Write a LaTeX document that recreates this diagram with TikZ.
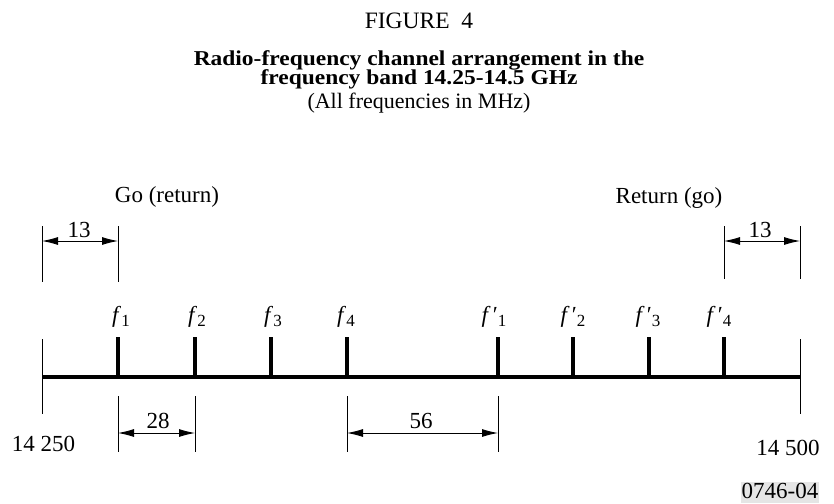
\documentclass[tikz,border=0pt]{standalone}
\usepackage{fontspec}
\setmainfont{Liberation Serif}
\usetikzlibrary{arrows.meta}
\newcommand\flab[2]{\textit{f}#1\raisebox{-4pt}{\fontsize{17}{17}\selectfont #2}}
\newcommand\boldline[1]{\scalebox{1.02}[0.92]{\bfseries #1}}
\begin{document}
\begin{tikzpicture}[x=1pt,y=-1pt,
  body/.style={font=\fontsize{23}{23}\selectfont, inner sep=0pt, anchor=base},
  titlefont/.style={font=\fontsize{23}{23}\selectfont, inner sep=0pt, anchor=base},
  axisline/.style={line width=4pt},
  tickline/.style={line width=3.5pt},
  extline/.style={line width=0.9pt},
  dimline/.style={line width=0.9pt, {Latex[length=16pt,width=8pt]}-{Latex[length=16pt,width=8pt]}}
]
\useasboundingbox (0,0) rectangle (834,503);
% title
\node[titlefont, font=\fontsize{23.5}{23.5}\selectfont] (fig) at (419,29) {FIGURE\ \ 4};
\node[titlefont] (t1) at (419,65) {\boldline{Radio-frequency channel arrangement in the}};
\node[titlefont] (t2) at (419,84) {\boldline{frequency band 14.25-14.5 GHz}};
\node[titlefont, font=\fontsize{22}{22}\selectfont] (t3) at (419,108) {(All frequencies in MHz)};
% axis
\coordinate (L) at (42,377);
\coordinate (R) at (800,377);
\draw[axisline] (L) -- (R);
\draw[extline] (42,339) coordinate (Ltop) -- (42,414) coordinate (Lbot);
\draw[extline] (800,339) coordinate (Rtop) -- (800,414) coordinate (Rbot);
% ticks
\foreach \n/\x in {a1/118,a2/195,a3/271,a4/347,b1/498,b2/573,b3/649,b4/724}{
  \coordinate (\n base) at (\x,377);
  \coordinate (\n top) at (\x,337);
  \draw[tickline] (\n base) -- (\n top);
}
% tick labels
\node[body] (la1) at (121,322) {\flab{}{1}};
\node[body] (la2) at (197,322) {\flab{}{2}};
\node[body] (la3) at (273,322) {\flab{}{3}};
\node[body] (la4) at (346,322) {\flab{}{4}};
\node[body] (lb1) at (494,322) {\flab{\kern2pt′}{1}};
\node[body] (lb2) at (573,322) {\flab{\kern2pt′}{2}};
\node[body] (lb3) at (648,322) {\flab{\kern2pt′}{3}};
\node[body] (lb4) at (719,322) {\flab{\kern2pt′}{4}};
% Go / Return
\node[body] (go) at (167,202) {Go (return)};
\node[body] (ret) at (669,203) {Return (go)};
% dimension 13 left
\coordinate (d1a) at (42,226); \coordinate (d1b) at (42,282);
\coordinate (d1c) at (118,226); \coordinate (d1d) at (118,282);
\draw[extline] (d1a) -- (d1b);
\draw[extline] (d1c) -- (d1d);
\coordinate (d1l) at (42,241); \coordinate (d1r) at (118,241);
\draw[dimline] (d1l) -- (d1r);
\node[body] (n13a) at (79,237) {13};
% dimension 13 right
\coordinate (d2a) at (724,226); \coordinate (d2b) at (724,279);
\coordinate (d2c) at (800,226); \coordinate (d2d) at (800,279);
\draw[extline] (d2a) -- (d2b);
\draw[extline] (d2c) -- (d2d);
\coordinate (d2l) at (724,241); \coordinate (d2r) at (800,241);
\draw[dimline] (d2l) -- (d2r);
\node[body] (n13b) at (760,237) {13};
% dimension 28
\coordinate (d3a) at (118,396); \coordinate (d3b) at (118,452);
\coordinate (d3c) at (195,396); \coordinate (d3d) at (195,452);
\draw[extline] (d3a) -- (d3b);
\draw[extline] (d3c) -- (d3d);
\coordinate (d3l) at (118,433); \coordinate (d3r) at (195,433);
\draw[dimline] (d3l) -- (d3r);
\node[body] (n28) at (158,428) {28};
% dimension 56
\coordinate (d4a) at (347,396); \coordinate (d4b) at (347,452);
\coordinate (d4c) at (498,396); \coordinate (d4d) at (498,452);
\draw[extline] (d4a) -- (d4b);
\draw[extline] (d4c) -- (d4d);
\coordinate (d4l) at (347,433); \coordinate (d4r) at (498,433);
\draw[dimline] (d4l) -- (d4r);
\node[body] (n56) at (421,428) {56};
% end values
\node[body] (v1) at (43.5,451) {14 250};
\node[body] (v2) at (788,455) {14 500};
% code
\fill[black!10] (741,482) rectangle (819,503);
\node[body] (code) at (780,498) {0746-04};
\end{tikzpicture}
\end{document}
